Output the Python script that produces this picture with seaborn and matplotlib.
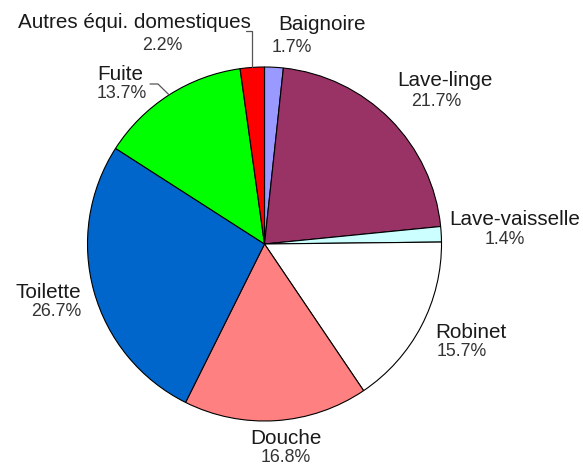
import numpy as np
import matplotlib
matplotlib.use("Agg")
import matplotlib.pyplot as plt
import seaborn as sns

# Water use by household equipment (%)
labels = ["Baignoire", "Lave-linge", "Lave-vaisselle", "Robinet",
          "Douche", "Toilette", "Fuite", "Autres équi. domestiques"]
shares = [1.7, 21.7, 1.4, 15.7, 16.8, 26.7, 13.7, 2.2]
colors = ["#9999FF", "#993366", "#CCFFFF", "#FFFFFF",
          "#FF8080", "#0066CC", "#00FF00", "#FF0000"]

sns.set_theme(style="white")
plt.rcParams["font.family"] = ["Liberation Sans", "DejaVu Sans"]

W, H = 583, 467
CX, CY, R = 264.5, 244, 177.0


def px(x, y):
    # pixel position -> data coords (pie radius = 1)
    return (x - CX) / R, (CY - y) / R


fig = plt.figure(figsize=(W / 100, H / 100), dpi=100)
ax = fig.add_axes([0, 0, 1, 1])
wedges, _ = ax.pie(shares, colors=colors, startangle=90, counterclock=False,
                   radius=1, wedgeprops=dict(edgecolor="black", linewidth=0.8))
ax.set_xlim(-CX / R, (W - CX) / R)
ax.set_ylim(-(H - CY) / R, CY / R)
ax.axis("off")

# label layout: (name x, name y, name align, pct x, pct y, pct align) in pixels
layout = {
    "Baignoire": (322, 25, "center", 292, 47, "center"),
    "Lave-linge": (445, 80, "center", 436, 102, "center"),
    "Lave-vaisselle": (449, 220, "left", 505, 240, "center"),
    "Robinet": (471, 332, "center", 462, 351, "center"),
    "Douche": (286, 439, "center", 286, 458, "center"),
    "Toilette": (81, 292, "right", 81, 312, "right"),
    "Fuite": (120, 75, "center", 122, 94, "center"),
    "Autres équi. domestiques": (134, 23, "center", 162, 46, "center"),
}

for lab, val in zip(labels, shares):
    nx, ny, na, qx, qy, qa = layout[lab]
    ax.text(*px(nx, ny), lab, ha=na, va="center", fontsize=14.9, color="#1a1a1a")
    ax.text(*px(qx, qy), f"{val:.1f}%", ha=qa, va="center", fontsize=12.8, color="#333333")


def edge_point(w):
    mid = np.deg2rad((w.theta1 + w.theta2) / 2)
    return np.cos(mid), np.sin(mid)


# leader lines
ex, ey = edge_point(wedges[labels.index("Autres équi. domestiques")])
c1 = px(CX + ex * R, 31)
c2 = px(246, 31)
ax.plot([ex, c1[0], c2[0]], [ey, c1[1], c2[1]], color="#555555", lw=0.9)

ex, ey = edge_point(wedges[labels.index("Fuite")])
c1 = px(158, 84)
c2 = px(150, 84)
ax.plot([ex, c1[0], c2[0]], [ey, c1[1], c2[1]], color="#555555", lw=0.9)

fig.savefig("out.png", dpi=100)
